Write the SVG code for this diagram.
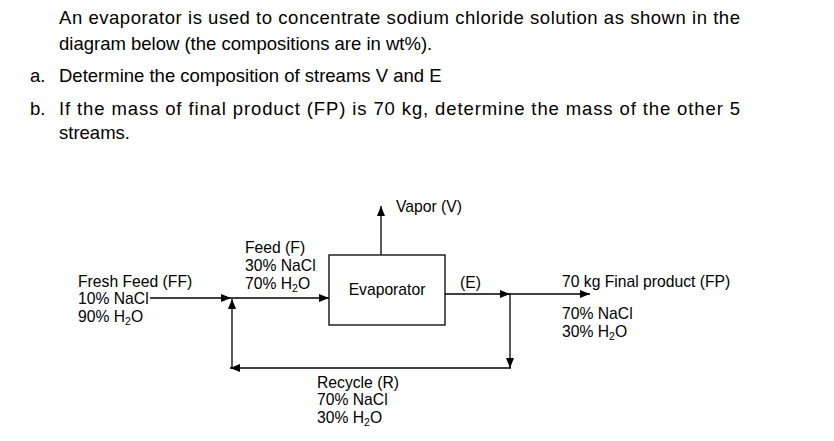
<svg xmlns="http://www.w3.org/2000/svg" width="834" height="441" viewBox="0 0 834 441">
<style>
.h{font-family:"Liberation Sans",Arial,sans-serif;font-size:18.5px;fill:#000}
.t{font-family:"Liberation Sans",Arial,sans-serif;font-size:15.7px;fill:#000}
.s{font-size:10.5px}
.ln{stroke:#000;stroke-width:1.3;fill:none}
</style>
<defs>
<marker id="ah" viewBox="0 0 10 8" refX="10" refY="4" markerWidth="10" markerHeight="8" markerUnits="userSpaceOnUse" orient="auto">
<path d="M0,0 L10,4 L0,8 Z" fill="#000"/>
</marker>
</defs>
<rect width="834" height="441" fill="#fff"/>
<g id="question">
<text class="h" x="59" y="24" textLength="681" lengthAdjust="spacing">An evaporator is used to concentrate sodium chloride solution as shown in the</text>
<text class="h" x="59" y="50">diagram below (the compositions are in wt%).</text>
<text class="h" x="30" y="82">a.</text>
<text class="h" x="59" y="82">Determine the composition of streams V and E</text>
<text class="h" x="30" y="115">b.</text>
<text class="h" x="59" y="115" textLength="681" lengthAdjust="spacing">If the mass of final product (FP) is 70 kg, determine the mass of the other 5</text>
<text class="h" x="59" y="139">streams.</text>
</g>
<g id="connectors">
<line class="ln" x1="150" y1="298" x2="231" y2="298" marker-end="url(#ah)"/>
<line class="ln" x1="231" y1="298" x2="329" y2="298" marker-end="url(#ah)"/>
<line class="ln" x1="232" y1="368" x2="232" y2="299" marker-end="url(#ah)"/>
<line class="ln" x1="381" y1="255" x2="381" y2="206" marker-end="url(#ah)"/>
<line class="ln" x1="445" y1="294" x2="510" y2="294" marker-end="url(#ah)"/>
<line class="ln" x1="509" y1="294" x2="590" y2="294" marker-end="url(#ah)"/>
<line class="ln" x1="510" y1="294" x2="510" y2="368" marker-end="url(#ah)"/>
<line class="ln" x1="511" y1="368" x2="230" y2="368" marker-end="url(#ah)"/>
</g>
<g id="evaporator">
<rect x="329" y="255" width="116" height="70" fill="#fff" stroke="#000" stroke-width="1.3"/>
<text class="t" x="387" y="295" text-anchor="middle">Evaporator</text>
</g>
<g id="fresh-feed">
<text class="t" x="78" y="287">Fresh Feed (FF)</text>
<text class="t" x="78" y="304">10% NaCl</text>
<text class="t" x="78" y="322">90% H<tspan class="s" dy="3">2</tspan><tspan dy="-3">O</tspan></text>
</g>
<g id="feed">
<text class="t" x="245" y="253">Feed (F)</text>
<text class="t" x="245" y="271">30% NaCl</text>
<text class="t" x="245" y="289">70% H<tspan class="s" dy="3">2</tspan><tspan dy="-3">O</tspan></text>
</g>
<g id="vapor">
<text class="t" x="396" y="212">Vapor (V)</text>
</g>
<g id="e-stream">
<text class="t" x="460" y="288">(E)</text>
</g>
<g id="final-product">
<text class="t" x="562" y="287">70 kg Final product (FP)</text>
<text class="t" x="562" y="319">70% NaCl</text>
<text class="t" x="562" y="337">30% H<tspan class="s" dy="3">2</tspan><tspan dy="-3">O</tspan></text>
</g>
<g id="recycle">
<text class="t" x="317" y="388">Recycle (R)</text>
<text class="t" x="317" y="405">70% NaCl</text>
<text class="t" x="317" y="423">30% H<tspan class="s" dy="3">2</tspan><tspan dy="-3">O</tspan></text>
</g>
</svg>
